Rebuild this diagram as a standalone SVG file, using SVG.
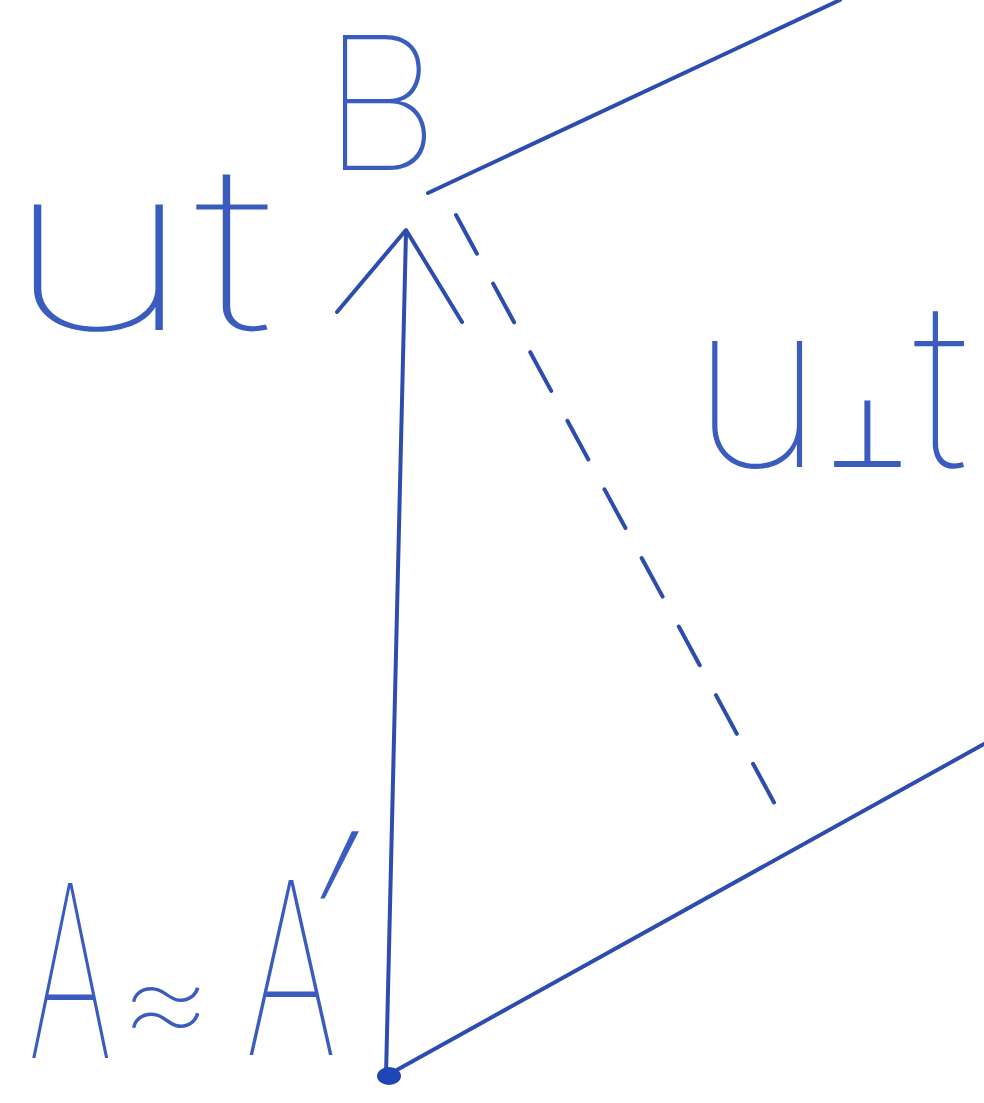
<svg xmlns="http://www.w3.org/2000/svg" width="984" height="1103" viewBox="0 0 984 1103">
<style>
.ink{stroke:#2c4cae;stroke-width:4;fill:none;stroke-linecap:round;stroke-linejoin:round}
.lbl{font-family:Inter,"DejaVu Sans",sans-serif;font-weight:100;fill:#3a5cbf}
</style>
<rect width="984" height="1103" fill="#ffffff"/>
<g id="connectors">
  <line class="ink" x1="386" y1="1076" x2="406" y2="232"/>
  <path class="ink" d="M337 312 L406 230 L462 322"/>
  <line class="ink" x1="428" y1="193" x2="840" y2="0"/>
  <line class="ink" x1="456" y1="215" x2="790" y2="832" stroke-dasharray="44 34"/>
  <line class="ink" x1="386" y1="1076" x2="984" y2="744"/>
  <ellipse cx="389" cy="1076" rx="12" ry="9" fill="#1f46b5"/>
</g>
<g id="B"><text class="lbl" x="322" y="170" font-size="185">B</text></g>
<g id="ut"><text class="lbl" x="2" y="330" font-size="230" textLength="272" lengthAdjust="spacingAndGlyphs">ut</text></g>
<g id="uperp"><text class="lbl" x="690" y="467" font-size="230">u<tspan font-size="95" dx="2">⊥</tspan><tspan dx="4">t</tspan></text></g>
<g id="A">
  <text class="lbl" x="0" y="1058" font-size="240" transform="translate(28,0) scale(0.55,1)">A</text>
  <text class="lbl" x="118" y="1050" font-size="150">≈</text>
  <text class="lbl" x="0" y="1055" font-size="240" transform="translate(245,0) scale(0.6,1)">A</text>
  <text class="lbl" x="0" y="0" font-size="280" transform="translate(255,1035) skewX(-20)">′</text>
</g>
</svg>
